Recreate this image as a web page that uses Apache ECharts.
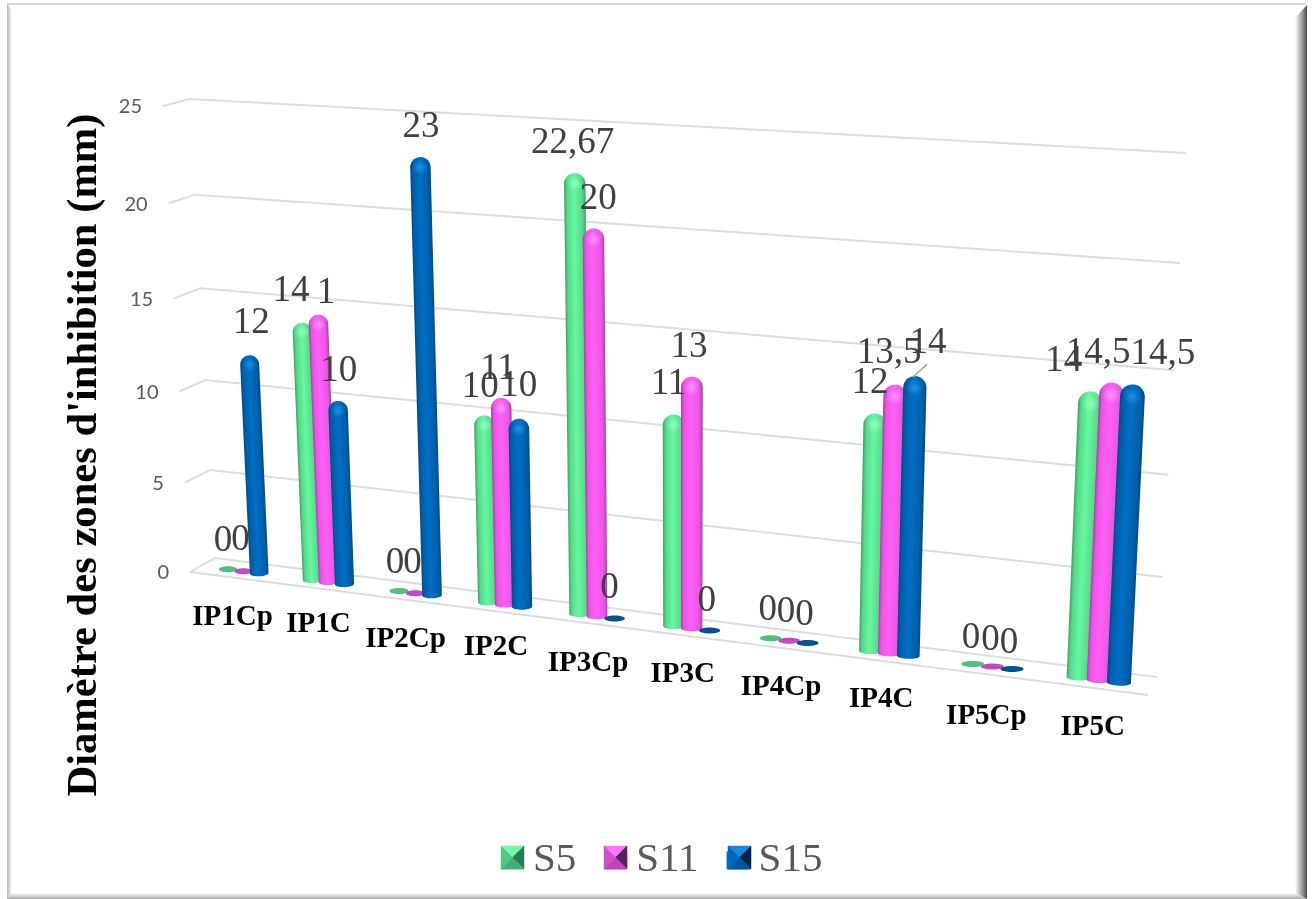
<!DOCTYPE html>
<html>
<head>
<meta charset="utf-8">
<style>html,body{margin:0;padding:0;background:#fff}#chart{width:1312px;height:899px}</style>
<script src="https://cdn.jsdelivr.net/npm/echarts@6/dist/echarts.min.js"></script>
</head>
<body>
<div id="chart"></div>
<script>
// Inhibition zone diameters per extract and strain
const categories = ['IP1Cp','IP1C','IP2Cp','IP2C','IP3Cp','IP3C','IP4Cp','IP4C','IP5Cp','IP5C'];
const seriesNames = ['S5','S11','S15'];
const valuesS5  = [0,14,0,10,22.67,11,0,12,0,14];
const valuesS11 = [0,14.5,0,11,20,13,0,13.5,0,14.5];
const valuesS15 = [12,10,23,10,0,0,0,14,0,14.5];
const labelsS5  = ['0','14','0','10','22,67','11','0','12','0','14'];
const labelsS11 = ['0','1','0','11','20','13','0','13,5','0','14,5'];
const labelsS15 = ['12','10','23','10','0','0','0','14','0','14,5'];
const yTicks = [0,5,10,15,20,25];
const yTitle = "Diamètre des zones d'inhibition (mm)";

// Perspective layout: corners are given as (low,low) (high,low) (high,high) (low,high)
const wallQuad  = [[215,558],[1157,677],[1186,153],[190,99]];
const frontQuad = [[190,572],[1148,695],[1177,171],[163,106]];
const barQuad   = [[202,566],[1153,687],[1180,158],[178,104]];
const seriesOffset = [-0.187,0,0.187];
const barHalfWidth = 0.11;
const palette = [
  {edge:'#3c9f68',mid:'#55d98b',light:'#66f89f',cap:'#8fffc0',flat:'#4fc07e',top:'#74f7a8',left:'#52c886',right:'#2a7a50',bottom:'#46ad74'},
  {edge:'#a83ea2',mid:'#ec55e4',light:'#ff5ff8',cap:'#ff92ff',flat:'#c24ac2',top:'#ff74ff',left:'#d050d0',right:'#55205c',bottom:'#c040c0'},
  {edge:'#004a86',mid:'#005fa8',light:'#006fc6',cap:'#1f8fe6',flat:'#00538f',top:'#1a88e0',left:'#0068b8',right:'#002848',bottom:'#0058a0'}
];

// Value label offsets from the top of each mark [dx, dy]
const nudgeS5  = [[-5,-30],[-11,-33],[-4,-30],[-4,-30],[-2,-32],[-5,-32],[-3,-30],[-5,-32],[-2,-28],[-27,-32]];
const nudgeS11 = [[-3,-33],[8,-23],[-3,-32],[-3,-31],[5,-31],[-3,-31],[-3,-30],[-6,-33],[-2,-28],[-14,-31]];
const nudgeS15 = [[2,-34],[1,-32],[1,-32],[0,-34],[-5,-32],[-3,-31],[-3,-30],[13,-35],[-3,-28],[30,-32]];
const categoryLabelNudge = [[-11,46],[-10,42],[-10,46],[-9,43],[-9,47],[-9,46],[-8,47],[-8,46],[-6,50],[-6,47]];

const allValues = [valuesS5,valuesS11,valuesS15];
const allLabels = [labelsS5,labelsS11,labelsS15];
const allNudges = [nudgeS5,nudgeS11,nudgeS15];

// Square-to-quadrilateral projective mapping
function makeProjection(q){
  const [x0,y0]=q[0],[x1,y1]=q[1],[x2,y2]=q[2],[x3,y3]=q[3];
  const dx1=x1-x2,dx2=x3-x2,sx=x0-x1+x2-x3;
  const dy1=y1-y2,dy2=y3-y2,sy=y0-y1+y2-y3;
  const den=dx1*dy2-dx2*dy1;
  const g=(sx*dy2-dx2*sy)/den,h=(dx1*sy-sx*dy1)/den;
  const a=x1-x0+g*x1,b=x3-x0+h*x3,d=y1-y0+g*y1,e=y3-y0+h*y3;
  return (s,t)=>{const w=g*s+h*t+1;return [(a*s+b*t+x0)/w,(d*s+e*t+y0)/w];};
}
const wall=makeProjection(wallQuad), front=makeProjection(frontQuad), barPlane=makeProjection(barQuad);

function unit(p,cs){return [(p[0]-cs.x)/cs.width,(cs.y+cs.height-p[1])/cs.height];}
function project(p,cs,fn){const u=unit(p,cs);return fn(u[0],u[1]);}

// Back wall, side stubs, floor edge and value axis tick labels
function renderGrid(params,api){
  const cs=params.coordSys;
  const t=unit(api.coord([0,api.value(1)]),cs)[1];
  const a=front(0,t),b=wall(0,t),c=wall(1,t);
  const children=[{type:'polyline',shape:{points:[a,b,c]},style:{stroke:'#dcdcdc',lineWidth:2,fill:null}}];
  if(api.value(1)===0){
    children.push({type:'line',shape:{x1:a[0],y1:a[1],x2:front(1,0)[0],y2:front(1,0)[1]},style:{stroke:'#dcdcdc',lineWidth:2}});
  }
  children.push({type:'text',style:{x:a[0]-21,y:a[1]+1,text:String(api.value(1)),fill:'#595959',fontFamily:'Lato',fontSize:20,align:'right',verticalAlign:'middle'}});
  return {type:'group',children};
}

// One cylinder per value; a zero value leaves only the flat base disc
function makeBarRenderer(si){
  const col=palette[si];
  return function(params,api){
    const cs=params.coordSys;
    const band=api.size([1,0])[0];
    const base=api.coord([api.value(0),0]);
    const top=api.coord([api.value(0),api.value(1)]);
    const cx=base[0]+seriesOffset[si]*band, hw=barHalfWidth*band;
    const B=project([cx,base[1]],cs,barPlane);
    if(api.value(1)===0){
      const l=project([cx-hw,base[1]],cs,barPlane),r=project([cx+hw,base[1]],cs,barPlane);
      return {type:'ellipse',shape:{cx:B[0],cy:B[1],rx:(r[0]-l[0])/2,ry:3},style:{fill:col.flat}};
    }
    const T=project([cx,top[1]],cs,barPlane);
    const bl=project([cx-hw,base[1]],cs,barPlane),br=project([cx+hw,base[1]],cs,barPlane);
    const tl=project([cx-hw,top[1]],cs,barPlane),tr=project([cx+hw,top[1]],cs,barPlane);
    const wb=Math.hypot(br[0]-bl[0],br[1]-bl[1])/2, wt=Math.hypot(tr[0]-tl[0],tr[1]-tl[1])/2;
    const dx=T[0]-B[0],dy=T[1]-B[1],L=Math.hypot(dx,dy);
    const pts=[];
    for(let i=0;i<=16;i++){const q=Math.PI*i/16;pts.push([-wb*Math.cos(q),3*Math.sin(q)]);}
    for(let i=0;i<=24;i++){const q=Math.PI*i/24;pts.push([wt*Math.cos(q),-L+wt-wt*Math.sin(q)]);}
    return {type:'group',x:B[0],y:B[1],rotation:Math.atan2(-dx,-dy),children:[
      {type:'polygon',shape:{points:pts},style:{fill:{type:'linear',x:0,y:0,x2:1,y2:0,colorStops:[
        {offset:0,color:col.edge},{offset:0.14,color:col.mid},{offset:0.45,color:col.light},{offset:0.84,color:col.mid},{offset:1,color:col.edge}]}}},
      {type:'circle',shape:{cx:0,cy:-L+wt,r:wt*0.72},style:{fill:{type:'radial',x:0.5,y:0.5,r:0.5,colorStops:[
        {offset:0,color:col.cap},{offset:1,color:col.cap+'00'}]}}}
    ]};
  };
}

// Data labels sit above all bars; each row is [category, value, series index]
function renderLabel(params,api){
  const cs=params.coordSys;
  const cat=api.value(0),si=api.value(2);
  const band=api.size([1,0])[0];
  const p=api.coord([cat,api.value(1)]);
  const T=project([p[0]+seriesOffset[si]*band,p[1]],cs,barPlane);
  const n=allNudges[si][cat];
  const children=[{type:'text',style:{x:T[0]+n[0],y:T[1]+n[1]+2,text:allLabels[si][cat],fill:'#404040',fontFamily:'Liberation Serif',fontSize:37,align:'center',verticalAlign:'middle'}}];
  if(n[0]>=10&&n[0]<20){
    children.push({type:'line',shape:{x1:T[0]-2,y1:T[1]+1,x2:T[0]+12,y2:T[1]-12},style:{stroke:'#a6a6a6',lineWidth:1.5}});
  }
  return {type:'group',children};
}

function renderCategory(params,api){
  const cat=api.value(0);
  const p=api.coord([cat,0]);
  const B=project(p,params.coordSys,barPlane);
  const n=categoryLabelNudge[cat];
  return {type:'text',style:{x:B[0]+n[0],y:B[1]+n[1],text:categories[cat],fill:'#000',fontFamily:'Liberation Serif',fontWeight:'bold',fontSize:29,align:'center',verticalAlign:'middle'}};
}

const barSeries=seriesNames.map((name,si)=>({
  name,type:'custom',coordinateSystem:'cartesian2d',clip:false,silent:true,z:3,
  itemStyle:{color:palette[si].light},
  encode:{x:0,y:1},
  data:allValues[si].map((v,i)=>[i,v]),
  renderItem:makeBarRenderer(si)
}));

const labelRows=[];
allValues.forEach((vals,si)=>vals.forEach((v,i)=>labelRows.push([i,v,si])));

// Bevelled legend keys drawn over the legend's square icons
const legendKeys=[501,604,728];
const keyY=846,keySize=23;
const legendBevels=legendKeys.flatMap((x,si)=>{
  const c=palette[si],m=[x+keySize/2,keyY+keySize/2];
  const tl=[x,keyY],tr=[x+keySize,keyY],br=[x+keySize,keyY+keySize],bl=[x,keyY+keySize];
  const faces=[[tl,tr,m,c.top],[tr,br,m,c.right],[br,bl,m,c.bottom],[bl,tl,m,c.left]];
  return faces.map(f=>({type:'polygon',z:100,shape:{points:[f[0],f[1],f[2]]},style:{fill:f[3],stroke:f[3],lineWidth:0.5}}));
});

// Picture-frame border around the chart area
const frame=[
  {type:'rect',z:90,shape:{x:7,y:3,width:1299,height:2},style:{fill:'#d9d9d9'}},
  {type:'polygon',z:90,shape:{points:[[7,4],[12,10],[12,893],[7,899]]},style:{fill:{type:'linear',x:0,y:0,x2:1,y2:0,colorStops:[{offset:0,color:'#b5b5b5'},{offset:1,color:'#ffffff'}]}}},
  {type:'polygon',z:90,shape:{points:[[1307,5],[1295,18],[1295,893],[1307,899]]},style:{fill:{type:'linear',x:0,y:0,x2:1,y2:0,colorStops:[{offset:0,color:'#ffffff'},{offset:0.6,color:'#9a9a9a'},{offset:1,color:'#4a4a4a'}]}}},
  {type:'polygon',z:90,shape:{points:[[7,899],[12,893],[1295,893],[1307,899]]},style:{fill:{type:'linear',x:0,y:0,x2:0,y2:1,colorStops:[{offset:0,color:'#ffffff'},{offset:1,color:'#a8a8a8'}]}}}
];

const chart=echarts.init(document.getElementById('chart'),null,{renderer:'canvas'});
chart.setOption({
  animation:false,
  backgroundColor:'#ffffff',
  grid:{left:190,top:100,width:1000,height:470,containLabel:false},
  xAxis:{type:'category',data:categories,show:false},
  yAxis:{type:'value',min:0,max:25,interval:5,show:false},
  legend:{
    data:seriesNames,left:501,top:840,padding:0,icon:'rect',itemWidth:23,itemHeight:18,itemGap:28,
    selectedMode:false,
    textStyle:{fontFamily:'Liberation Serif',fontSize:41,color:'#595959',padding:[0,0,0,4]}
  },
  graphic:[
    {type:'text',z:10,x:85,y:455,rotation:Math.PI/2,style:{text:yTitle,fontFamily:'Liberation Serif',fontWeight:'bold',fontSize:42.6,fill:'#000',align:'center',verticalAlign:'middle'}},
    ...frame,...legendBevels
  ],
  series:[
    {type:'custom',name:'grid',coordinateSystem:'cartesian2d',clip:false,silent:true,z:1,encode:{x:0,y:1},
     data:yTicks.map(v=>[0,v]),renderItem:renderGrid},
    ...barSeries,
    {type:'custom',name:'categories',coordinateSystem:'cartesian2d',clip:false,silent:true,z:5,encode:{x:0,y:1},
     data:categories.map((c,i)=>[i,0]),renderItem:renderCategory},
    {type:'custom',name:'values',coordinateSystem:'cartesian2d',clip:false,silent:true,z:6,encode:{x:0,y:1},
     data:labelRows,renderItem:renderLabel}
  ]
});
</script>
</body>
</html>
